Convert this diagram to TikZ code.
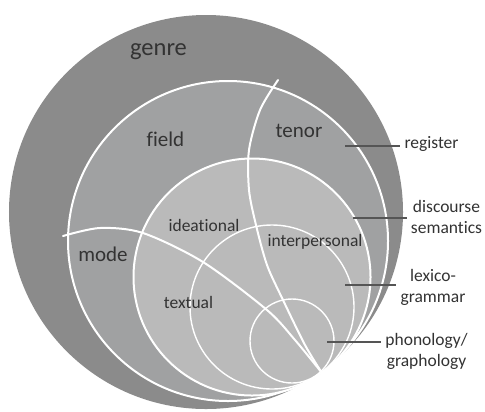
\documentclass[tikz,border=0pt]{standalone}
\usepackage{fontspec}
\setmainfont{Carlito}[Ligatures=NoCommon]
\definecolor{genrec}{HTML}{8B8B8B}
\definecolor{regc}{HTML}{A0A1A2}
\definecolor{dsc}{HTML}{BABABA}
\definecolor{txtc}{HTML}{333333}
\definecolor{leadc}{HTML}{555555}
\begin{document}
\begin{tikzpicture}[x=1bp,y=-1bp,
  big/.style={font=\fontsize{24.5bp}{29bp}\selectfont, text=txtc, inner sep=0pt, anchor=base},
  mid/.style={font=\fontsize{21bp}{25bp}\selectfont, text=txtc, inner sep=0pt, anchor=base},
  small/.style={font=\fontsize{17.5bp}{21bp}\selectfont, text=txtc, inner sep=0pt, anchor=base},
  side/.style={small, align=center, inner xsep=4bp},
  ring/.style={draw=white, line width=2bp},
  thinring/.style={draw=white, line width=1.4bp},
  divider/.style={draw=white, line width=2bp, line cap=round},
  leader/.style={draw=leadc, line width=1.3bp}]
\fill[white] (0,0) rectangle (485,411);
\useasboundingbox (0,0) rectangle (485,411);
% nested circles
\fill[genrec] (206,212) circle[radius=197bp];
\filldraw[fill=regc, ring] (228,241) circle[radius=160bp];
\filldraw[fill=dsc, ring] (252,277) circle[radius=118.5bp];
\draw[thinring] (272,307) circle[radius=82bp];
\draw[thinring] (292,341) circle[radius=42bp];
% dividing arcs
\draw[divider] plot[smooth] coordinates {(278,80) (260,110) (249,150) (249,190) (256,225) (267,265) (283,300) (305,345) (322,373)};
\draw[divider] plot[smooth] coordinates {(63,236) (100,228) (143,233) (203,262) (267,310) (295,340) (322,373)};
% inner labels
\node[big] (genre) at (158.5,55) {genre};
\node[mid] (field) at (165.5,146) {field};
\node[mid] (tenor) at (299,137) {tenor};
\node[mid] (mode) at (103,261) {mode};
\node[small] (ideational) at (204,231) {ideational};
\node[small] (interpersonal) at (315,246) {interpersonal};
\node[small] (textual) at (188.5,308) {textual};
% side labels (base anchor = baseline of last line)
\node[side] (register) at (431.5,148) {register};
\node[side] (discsem) at (446.5,233) {discourse\\semantics};
\node[side] (lexgram) at (433,302) {lexico-\\grammar};
\node[side] (phongraph) at (426.5,366) {phonology/\\graphology};
% leader lines
\coordinate (lr) at (345,146);
\coordinate (ld) at (353,218);
\coordinate (ll) at (345,285);
\coordinate (lp) at (327,342);
\draw[leader] (lr) -- (lr -| register.west);
\draw[leader] (ld) -- (ld -| discsem.west);
\draw[leader] (ll) -- (ll -| lexgram.west);
\draw[leader] (lp) -- (lp -| phongraph.west);
\end{tikzpicture}
\end{document}
